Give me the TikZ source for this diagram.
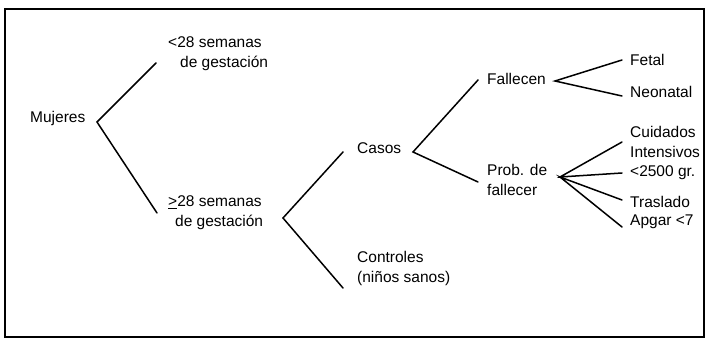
\documentclass[tikz,border=0pt]{standalone}
\usepackage{fontspec}
\setmainfont{Liberation Sans}
\begin{document}
\begin{tikzpicture}[x=1pt,y=-1pt,
  lbl/.style={font=\fontsize{15.5}{20}\selectfont, inner sep=0pt, anchor=west, align=left},
  br/.style={line width=1.5pt, line cap=round, line join=miter}]
\useasboundingbox (0,0) rectangle (709,342);
\draw[line width=2.5pt] (5,9) rectangle (704,337);

% texts
\node[lbl] (muj) at (30,118) {Mujeres};
\node[lbl] (lt)  at (168,54) {<28 semanas\\\hspace*{12pt}de gestación};
\node[lbl] (ge)  at (168,213) {\underline{>}28 semanas\\\hspace*{7pt}de gestación};
\node[lbl] (cas) at (357,148) {Casos};
\node[lbl] (con) at (357,268) {Controles\\(niños sanos)};
\node[lbl] (fal) at (487,79) {Fallecen};
\node[lbl] (pro) at (487,180) {Prob. de\\fallecer};
\node[lbl] (fet) at (630,60) {Fetal};
\node[lbl] (neo) at (630,92) {Neonatal};
\node[lbl] (cui) at (630,142) {Cuidados\\Intensivos};
\node[lbl] (pes) at (630,173) {<2500 gr.};
\node[lbl] (tra) at (630,202) {Traslado};
\node[lbl] (apg) at (630,222) {Apgar <7};

% fork points
\coordinate (v1) at (97,122);
\coordinate (v2) at (283,218);
\coordinate (v3) at (413,152);
\coordinate (v4) at (555,81);
\coordinate (v5) at (560,177);

% line ends next to the child texts
\coordinate (e-lt)  at (156,63);
\coordinate (e-ge)  at (157,213);
\coordinate (e-cas) at (343,152);
\coordinate (e-con) at (343,288);
\coordinate (e-fal) at (478,80);
\coordinate (e-pro) at (478,182);
\coordinate (e-fet) at (622,60);
\coordinate (e-neo) at (622,96);
\coordinate (e-cui) at (622,142);
\coordinate (e-pes) at (622,173);
\coordinate (e-tra) at (622,200);
\coordinate (e-apg) at (622,227);

\draw[br] (e-lt) -- (v1) -- (e-ge);
\draw[br] (e-cas) -- (v2) -- (e-con);
\draw[br] (e-fal) -- (v3) -- (e-pro);
\draw[br] (e-fet) -- (v4) -- (e-neo);
\draw[br] (e-cui) -- (v5) -- (e-pes);
\draw[br] (e-tra) -- (v5) -- (e-apg);
\end{tikzpicture}
\end{document}
